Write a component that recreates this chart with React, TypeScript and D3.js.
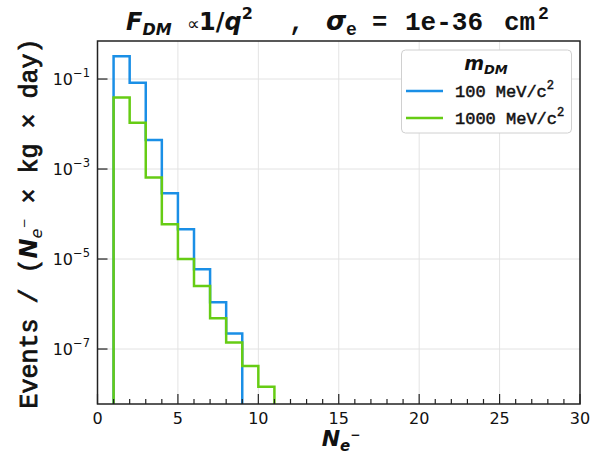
import React from "react";
import * as d3 from "d3";

const binStart = 1;
const series100 = [0.32, 0.083, 4.4e-3, 2.9e-4, 4.6e-5, 5.9e-6, 1.1e-6, 2.2e-7];
const series1000 = [0.039, 0.0107, 6.5e-4, 5.9e-5, 1.0e-5, 2.5e-6, 4.8e-7, 1.4e-7, 4.2e-8, 1.45e-8];
const seriesNames = ["100 MeV/c", "1000 MeV/c"];
const seriesColors = ["#1a8fe6", "#66cc14"];
const xTicks = [0, 5, 10, 15, 20, 25, 30];
const xMinorTicks = d3.range(0, 31, 1);
const yTickExps = [-1, -3, -5, -7];

const W = 603;
const H = 458;
const L = 97.5, R = 580, T = 41, B = 404;
const mono = "'Courier New', 'Liberation Mono', 'DejaVu Sans Mono', monospace";
const sans = "'DejaVu Sans', sans-serif";

export default function App() {
  const x = d3.scaleLinear().domain([0, 30]).range([L, R]);
  const y = d3.scaleLog().domain([6e-9, 0.7]).range([B, T]);
  const yMin = y.domain()[0];

  const stepPath = (vals: number[]) => {
    const pts: [number, number][] = [[binStart, yMin]];
    vals.forEach((v, i) => {
      pts.push([binStart + i, v]);
      pts.push([binStart + i + 1, v]);
    });
    pts.push([binStart + vals.length, yMin]);
    return d3.line<[number, number]>().x((d) => x(d[0])).y((d) => y(d[1]))(pts) || "";
  };

  const all = [series100, series1000];

  return (
    <svg width={W} height={H} style={{ position: "absolute", left: 0, top: 0, background: "#fff" }}>
      <rect x={0} y={0} width={W} height={H} fill="#fff" />
      {/* grid */}
      {xTicks.filter((t) => t > 0 && t < 30).map((t) => (
        <line key={"gx" + t} x1={x(t)} x2={x(t)} y1={T} y2={B} stroke="#e3e3e3" strokeWidth={1} />
      ))}
      {yTickExps.map((e) => (
        <line key={"gy" + e} x1={L} x2={R} y1={y(Math.pow(10, e))} y2={y(Math.pow(10, e))} stroke="#e3e3e3" strokeWidth={1} />
      ))}
      {/* histograms */}
      <defs>
        <clipPath id="plotclip">
          <rect x={L} y={T} width={R - L} height={B - T} />
        </clipPath>
      </defs>
      <g clipPath="url(#plotclip)">
        {all.map((vals, i) => (
          <path key={"s" + i} d={stepPath(vals)} fill="none" stroke={seriesColors[i]} strokeWidth={2.5} strokeLinejoin="miter" />
        ))}
      </g>
      {/* ticks */}
      {xMinorTicks.map((t) => (
        <line key={"xt" + t} x1={x(t)} x2={x(t)} y1={B} y2={B - (t % 5 === 0 ? 10 : 5)} stroke="#222" strokeWidth={1.2} />
      ))}
      {yTickExps.map((e) => (
        <line key={"yt" + e} x1={L} x2={L + 10} y1={y(Math.pow(10, e))} y2={y(Math.pow(10, e))} stroke="#222" strokeWidth={1.2} />
      ))}
      {/* frame */}
      <rect x={L} y={T} width={R - L} height={B - T} fill="none" stroke="#222" strokeWidth={1.5} />
      {/* x tick labels */}
      {xTicks.map((t) => (
        <text key={"xl" + t} x={x(t)} y={424} textAnchor="middle" fontFamily={sans} fontSize={16} fill="#111">
          {t}
        </text>
      ))}
      {/* y tick labels */}
      {yTickExps.map((e) => (
        <text key={"yl" + e} x={90} y={y(Math.pow(10, e)) + 6} textAnchor="end" fontFamily={sans} fontSize={16} fill="#111">
          10
          <tspan dy={-8} fontSize={11.5}>{"\u2212" + Math.abs(e)}</tspan>
        </text>
      ))}
      {/* title */}
      <g fill="#111">
        <text x={126} y={30} fontFamily={sans} fontWeight="bold" fontStyle="italic" fontSize={24}>
          F<tspan fontSize={16} dy={5}>DM</tspan>
        </text>
        <text x={187} y={30} fontFamily={sans} fontSize={18}>{"\u221d"}</text>
        <text x={199} y={30} fontFamily={sans} fontWeight="bold" fontSize={24}>
          1/<tspan fontStyle="italic">q</tspan>
          <tspan fontSize={16} dy={-11}>2</tspan>
        </text>
        <text x={289} y={30} fontFamily={mono} fontWeight="bold" fontSize={25}>,</text>
        <text x={326} y={30} fontFamily={sans} fontWeight="bold" fontStyle="italic" fontSize={26}>σ</text>
        <text x={346} y={35} fontFamily={mono} fontWeight="bold" fontSize={18}>e</text>
        <text x={372} y={30} fontFamily={mono} fontWeight="bold" fontSize={25.5}>=</text>
        <text x={405} y={30} fontFamily={mono} fontWeight="bold" fontSize={26}>1e-36</text>
        <text x={504} y={30} fontFamily={mono} fontWeight="bold" fontSize={26}>cm</text>
        <text x={538} y={19} fontFamily={mono} fontWeight="bold" fontSize={18}>2</text>
      </g>
      {/* x label */}
      <text x={341} y={446} textAnchor="middle" fill="#111" fontFamily={sans} fontWeight="bold" fontStyle="italic">
        <tspan fontSize={22}>N</tspan>
        <tspan fontSize={15} dy={5}>e</tspan>
        <tspan fontSize={12} dy={-12} fontStyle="normal">{"\u2212"}</tspan>
      </text>
      {/* y label */}
      <text transform={`translate(37,${(T + B) / 2 + 1}) rotate(-90)`} textAnchor="middle" fill="#111">
        <tspan fontFamily={mono} fontSize={25} stroke="#111" strokeWidth={0.8}>{"Events\u00a0/\u00a0("}</tspan>
        <tspan fontFamily={sans} fontWeight="bold" fontStyle="italic" fontSize={24}>N</tspan>
        <tspan fontFamily={sans} fontStyle="italic" fontSize={16} dy={5}>e</tspan>
        <tspan fontFamily={sans} fontSize={12} dy={-14}>{"\u2212"}</tspan>
        <tspan fontFamily={mono} fontSize={25} dy={9} stroke="#111" strokeWidth={0.8}>{"\u00a0×\u00a0kg\u00a0×\u00a0day)"}</tspan>
      </text>
      {/* legend */}
      <g>
        <rect x={401.5} y={50} width={170} height={83} rx={4} fill="#fff" stroke="#d0d0d0" strokeWidth={1} />
        <text x={486} y={70} textAnchor="middle" fill="#111" fontFamily={sans} fontWeight="bold" fontStyle="italic">
          <tspan fontSize={19}>m</tspan>
          <tspan fontSize={13} dy={4}>DM</tspan>
        </text>
        {seriesNames.map((n, i) => (
          <g key={"lg" + i}>
            <line x1={406} x2={443} y1={91 + i * 27} y2={91 + i * 27} stroke={seriesColors[i]} strokeWidth={2.5} />
            <text x={455} y={97 + i * 27} fill="#111" fontFamily={mono} fontSize={17} stroke="#111" strokeWidth={0.5}>
              {n.replace(/ /g, "\u00a0")}
              <tspan fontSize={12} dy={-8}>2</tspan>
            </text>
          </g>
        ))}
      </g>
    </svg>
  );
}
